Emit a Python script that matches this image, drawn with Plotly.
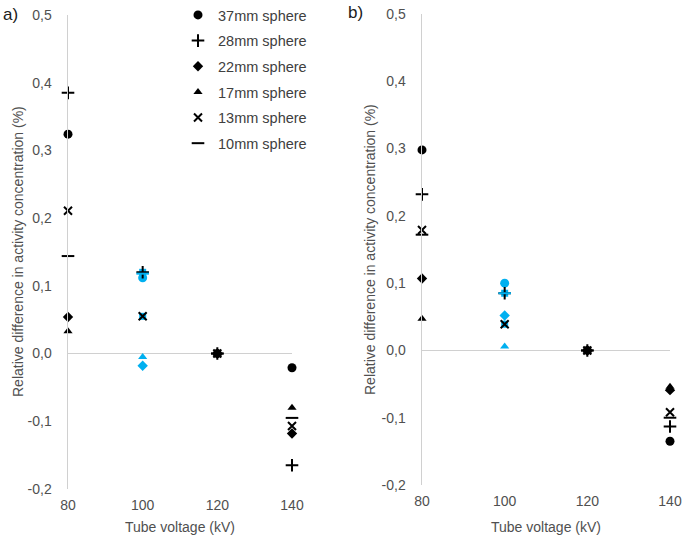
import plotly.graph_objects as go

# ---------------- data ----------------
voltages = [80, 100, 120, 140]
x_ticktext = ["80", "100", "120", "140"]
y_tickvals = [-0.2, -0.1, 0.0, 0.1, 0.2, 0.3, 0.4, 0.5]
y_ticktext = ["-0,2", "-0,1", "0,0", "0,1", "0,2", "0,3", "0,4", "0,5"]

series_names = ["37mm sphere", "28mm sphere", "22mm sphere",
                "17mm sphere", "13mm sphere", "10mm sphere"]

# panel a)
a_37 = [0.324, 0.112, 0.0, -0.021]
a_28 = [0.385, 0.120, 0.0, -0.165]
a_22 = [0.054, -0.018, 0.0, -0.118]
a_17 = [0.033, -0.005, 0.0, -0.080]
a_13 = [0.211, 0.055, 0.0, -0.107]
a_10 = [0.144, 0.118, 0.0, -0.095]

# panel b)
b_37 = [0.298, 0.100, 0.0, -0.135]
b_28 = [0.232, 0.085, 0.0, -0.113]
b_22 = [0.107, 0.052, 0.0, -0.059]
b_17 = [0.047, 0.006, 0.0, -0.054]
b_13 = [0.179, 0.039, 0.0, -0.092]
b_10 = [0.172, 0.085, 0.0, -0.100]

panel_a = [a_37, a_28, a_22, a_17, a_13, a_10]
panel_b = [b_37, b_28, b_22, b_17, b_13, b_10]

# ---------------- style ----------------
BLACK = "#000000"
BLUE = "#00B0F0"
TXT = "#505050"
AXC = "#d0d0d0"
FONT = "Liberation Sans, Arial, sans-serif"

symbols = ["circle", "cross-thin", "diamond", "triangle-up", "x-thin", "line-ew"]
sizes = [9, 9, 8, 8, 8, 9]
thin = [False, True, False, False, True, True]
pt_colors = [BLACK, BLUE, BLACK, BLACK]
fill_under = [False, True, False, False, True, False]

fig = go.Figure()

for panel_idx, (data, xa, ya) in enumerate([(panel_a, "x", "y"), (panel_b, "x2", "y2")]):
    for i, vals in enumerate(data):
        if fill_under[i]:
            fig.add_trace(go.Scatter(
                x=[voltages[1]], y=[vals[1]], xaxis=xa, yaxis=ya,
                mode="markers", showlegend=False, cliponaxis=False,
                marker=dict(symbol="square", size=7, color=BLUE, line=dict(width=0)),
                hoverinfo="skip"))
    for i, vals in enumerate(data):
        if thin[i]:
            lc = [BLACK, BLACK, BLACK, BLACK] if fill_under[i] else pt_colors
            marker = dict(symbol=symbols[i], size=sizes[i], color=lc,
                          line=dict(width=2, color=lc))
        else:
            marker = dict(symbol=symbols[i], size=sizes[i], color=pt_colors,
                          line=dict(width=0))
        fig.add_trace(go.Scatter(
            x=voltages, y=vals, xaxis=xa, yaxis=ya, mode="markers",
            name=series_names[i], marker=marker, cliponaxis=False,
            showlegend=(panel_idx == 0), legendgroup=series_names[i]))

W, H = 685, 544
def px_x(p):
    return p / W
def px_y(p):
    return 1 - p / H

common_x = dict(range=[80, 140], tickvals=voltages, ticktext=x_ticktext,
                showline=False, showgrid=False, zeroline=False, automargin=False,
                ticks="outside", ticklen=3, tickcolor="rgba(0,0,0,0)",
                ticklabeloverflow="allow",
                tickfont=dict(family=FONT, size=14, color=TXT), fixedrange=True)
common_y = dict(range=[-0.2, 0.5], tickvals=y_tickvals, ticktext=y_ticktext,
                showline=True, linecolor=AXC, linewidth=1.5, automargin=False,
                showgrid=False, zeroline=True, zerolinecolor=AXC, zerolinewidth=1.5,
                ticks="outside", ticklen=12, tickcolor="rgba(0,0,0,0)",
                ticklabeloverflow="allow",
                tickfont=dict(family=FONT, size=14, color=TXT), fixedrange=True)

fig.update_layout(
    template="none",
    width=W, height=H, autosize=False,
    margin=dict(l=0, r=0, t=0, b=0, pad=0, autoexpand=False),
    paper_bgcolor="white", plot_bgcolor="white",
    font=dict(family=FONT, size=14, color=TXT),
    xaxis=dict(domain=[px_x(68), px_x(292)], anchor="y", **common_x),
    yaxis=dict(domain=[px_y(489), px_y(15)], anchor="x", **common_y),
    xaxis2=dict(domain=[px_x(422), px_x(670)], anchor="y2", **common_x),
    yaxis2=dict(domain=[px_y(485), px_y(14)], anchor="x2", **common_y),
    legend=dict(x=px_x(178), y=px_y(-1), xanchor="left", yanchor="top",
                bgcolor="rgba(0,0,0,0)", tracegroupgap=3.8,
                font=dict(family=FONT, size=14.5, color="#404040")),
    showlegend=True,
)

ytitle = "Relative difference in activity concentration (%)"
xtitle = "Tube voltage (kV)"
ann = [
    dict(text=ytitle, x=px_x(18), y=px_y(252), textangle=-90),
    dict(text=ytitle, x=px_x(370), y=px_y(250), textangle=-90),
    dict(text=xtitle, x=px_x(180), y=px_y(527)),
    dict(text=xtitle, x=px_x(546), y=px_y(527)),
    dict(text="a)", x=px_x(10), y=px_y(14), font=dict(family=FONT, size=17, color="#202020")),
    dict(text="b)", x=px_x(355), y=px_y(12), font=dict(family=FONT, size=17, color="#202020")),
]
for a in ann:
    a.setdefault("font", dict(family=FONT, size=14, color=TXT))
    fig.add_annotation(xref="paper", yref="paper", showarrow=False,
                       xanchor="center", yanchor="middle", **a)

# remove the browser's default 8px page margin so the 685x544 figure fills the window
fig.write_html("out.html", config={"displayModeBar": False, "staticPlot": True},
               post_script="document.body.style.margin='0px';")
